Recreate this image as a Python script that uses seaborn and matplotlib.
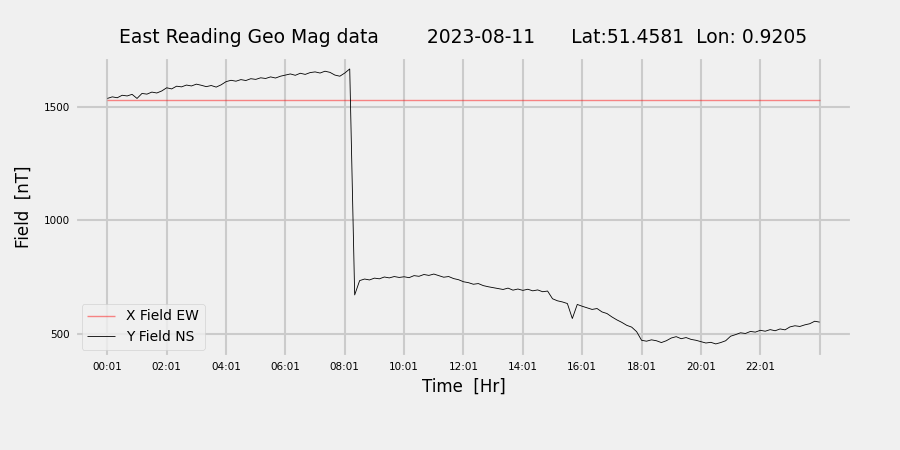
import numpy as np
import pandas as pd
import seaborn as sns
import matplotlib
matplotlib.use('Agg')
import matplotlib.pyplot as plt

# Y field (NS) readings every 10 minutes, 00:01 .. 24:01  [nT]
y_field = [
    1538, 1545, 1541, 1552, 1549, 1556,
    1538, 1560, 1557, 1566, 1562, 1571,
    1585, 1580, 1592, 1589, 1597, 1593,
    1601, 1596, 1590, 1595, 1588, 1598,
    1612, 1618, 1614, 1621, 1617, 1625,
    1622, 1629, 1626, 1633, 1628, 1636,
    1641, 1646, 1640, 1649, 1644, 1652,
    1655, 1650, 1658, 1653, 1641, 1636,
    1650, 1668, 672, 735, 742, 738,
    746, 743, 751, 747, 753, 749,
    752, 748, 757, 754, 762, 758,
    764, 757, 750, 753, 744, 739,
    730, 726, 719, 722, 713, 708,
    704, 700, 696, 702, 693, 698,
    692, 697, 690, 694, 686, 689,
    655, 646, 641, 634, 568, 630,
    622, 615, 608, 612, 597, 590,
    575, 562, 551, 538, 530, 510,
    472, 468, 474, 470, 462, 470,
    482, 488, 479, 484, 476, 472,
    466, 460, 463, 456, 462, 470,
    490, 497, 505, 502, 511, 508,
    516, 512, 519, 514, 522, 518,
    531, 536, 533, 540, 545, 556,
    552,
]
x_field_level = 1530  # X field (EW) baseline [nT]

tick_labels = ['00:01', '02:01', '04:01', '06:01', '08:01', '10:01',
               '12:01', '14:01', '16:01', '18:01', '20:01', '22:01', '']

hours = np.arange(len(y_field)) / 6.0
df = pd.DataFrame({'hours': hours,
                   'x_field': [x_field_level] * len(y_field),
                   'y_field': y_field})

plt.style.use('fivethirtyeight')
plt.rcParams['font.family'] = ['DejaVu Sans']

fig = plt.figure(figsize=(9, 4.5), dpi=100)
ax = fig.add_axes([0.083, 0.207, 0.864, 0.666])

sns.lineplot(data=df, x='hours', y='x_field', ax=ax, color='red',
             linewidth=1, alpha=0.45, label='X Field EW')
sns.lineplot(data=df, x='hours', y='y_field', ax=ax, color='black',
             linewidth=0.6, label='Y Field NS')

ax.set_xlim(-1.1, 25.1)
ax.set_ylim(399, 1720)
ax.set_xticks(np.arange(0, 25, 2))
ax.set_xticklabels(tick_labels, fontsize=7.5)
ax.set_yticks([500, 1000, 1500])
ax.tick_params(axis='y', labelsize=7.5)
ax.grid(True, color='#cbcbcb', linewidth=1.5)

ax.set_xlabel('Time  [Hr]', fontsize=12)
ax.set_ylabel('Field  [nT]', fontsize=12, labelpad=8)
ax.set_title('East Reading Geo Mag data        2023-08-11      Lat:51.4581  Lon: 0.9205',
             fontsize=13.5, pad=10)

ax.legend(loc='lower left', fontsize=10, frameon=True, framealpha=0.8,
          handlelength=2)

fig.savefig('out.png', dpi=100, facecolor=fig.get_facecolor())
